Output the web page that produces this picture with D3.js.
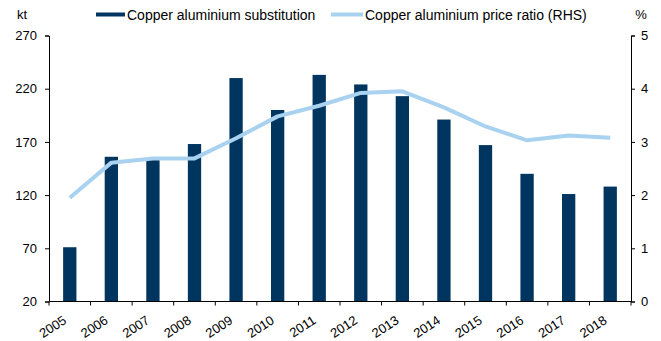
<!DOCTYPE html>
<html>
<head>
<meta charset="utf-8">
<script src="https://cdn.jsdelivr.net/npm/d3@7/dist/d3.min.js"></script>
<style>
  html, body { margin: 0; padding: 0; background: #fff; }
  svg { display: block; font-family: "Liberation Sans", Arial, sans-serif; }
</style>
</head>
<body>
<svg id="chart" width="661" height="341"></svg>
<script>
// Years on the category axis
const years = ["2005","2006","2007","2008","2009","2010","2011","2012","2013","2014","2015","2016","2017","2018"];
// Copper aluminium substitution, kt (left axis)
const substitution = [71, 156, 154, 168, 230, 200, 233, 224, 213, 191, 167, 140, 121, 128];
// Copper aluminium price ratio (right axis)
const priceRatio = [1.95, 2.61, 2.69, 2.69, 3.07, 3.48, 3.68, 3.92, 3.95, 3.65, 3.29, 3.03, 3.12, 3.08];
// Axis ticks
const leftTicks = [20, 70, 120, 170, 220, 270];
const rightTicks = [0, 1, 2, 3, 4, 5];

const barColor = "#00355f";
const lineColor = "#a9d2f0";

const svg = d3.select("#chart");
const plot = { left: 49, right: 631, top: 35.5, bottom: 301.5 };

const x = d3.scaleBand().domain(years).range([plot.left, plot.right]).paddingInner(0).paddingOuter(0);
const yL = d3.scaleLinear().domain([20, 270]).range([plot.bottom, plot.top]);
const yR = d3.scaleLinear().domain([0, 5]).range([plot.bottom, plot.top]);

const barW = x.bandwidth() * 0.32;

// Bars
svg.append("g").selectAll("rect")
  .data(years)
  .join("rect")
  .attr("x", (d) => x(d) + x.bandwidth() / 2 - barW / 2)
  .attr("width", barW)
  .attr("y", (d, i) => yL(substitution[i]))
  .attr("height", (d, i) => yL(20) - yL(substitution[i]))
  .attr("fill", barColor);

// Price ratio line
const line = d3.line()
  .x((d, i) => x(years[i]) + x.bandwidth() / 2)
  .y((d) => yR(d));
svg.append("path")
  .datum(priceRatio)
  .attr("d", line)
  .attr("fill", "none")
  .attr("stroke", lineColor)
  .attr("stroke-width", 4)
  .attr("stroke-linejoin", "round");

// Axes
function styleAxis(g) {
  g.selectAll("path.domain").attr("stroke", "#000").attr("stroke-width", 1);
  g.selectAll(".tick line").attr("stroke", "#000");
  g.selectAll("text").attr("fill", "#000").style("font-size", "13px").style("font-family", "'Liberation Sans', Arial, sans-serif");
}

svg.append("g")
  .attr("transform", `translate(${plot.left},0)`)
  .call(d3.axisLeft(yL).tickValues(leftTicks).tickFormat(d3.format("d")).tickSizeInner(4).tickSizeOuter(4).tickPadding(8))
  .call(styleAxis);

svg.append("g")
  .attr("transform", `translate(${plot.right},0)`)
  .call(d3.axisRight(yR).tickValues(rightTicks).tickFormat(d3.format("d")).tickSizeInner(4).tickSizeOuter(4).tickPadding(6))
  .call(styleAxis);

// Category axis: ticks at band edges, slanted labels at band centers
const xAxis = svg.append("g").attr("transform", `translate(0,${plot.bottom})`);
xAxis.append("line")
  .attr("x1", plot.left).attr("x2", plot.right)
  .attr("y1", 0).attr("y2", 0)
  .attr("stroke", "#000");
const edges = years.map((d) => x(d)).concat([plot.right]);
xAxis.selectAll("line.edge")
  .data(edges)
  .join("line")
  .attr("class", "edge")
  .attr("x1", (d) => d).attr("x2", (d) => d)
  .attr("y1", 0).attr("y2", 4)
  .attr("stroke", "#000");
xAxis.selectAll("text")
  .data(years)
  .join("text")
  .attr("text-anchor", "end")
  .attr("transform", (d) => `translate(${x(d) + x.bandwidth() / 2 - 2.5},${21}) rotate(-33)`)
  .style("font-size", "13px")
  .attr("fill", "#000")
  .text((d) => d);

// Axis unit labels
svg.append("text").attr("x", 22).attr("y", 19).attr("text-anchor", "middle")
  .style("font-size", "13px").text("kt");
svg.append("text").attr("x", 641).attr("y", 19).attr("text-anchor", "middle")
  .style("font-size", "13px").text("%");

// Legend
const legend = svg.append("g");
legend.append("rect").attr("x", 96).attr("y", 12.5).attr("width", 29).attr("height", 4).attr("fill", barColor);
legend.append("text").attr("x", 127).attr("y", 19.5).style("font-size", "14px").text("Copper aluminium substitution");
legend.append("line").attr("x1", 331).attr("x2", 363).attr("y1", 14.5).attr("y2", 14.5)
  .attr("stroke", lineColor).attr("stroke-width", 4);
legend.append("text").attr("x", 365).attr("y", 19.5).style("font-size", "14px").text("Copper aluminium price ratio (RHS)");
</script>
</body>
</html>
